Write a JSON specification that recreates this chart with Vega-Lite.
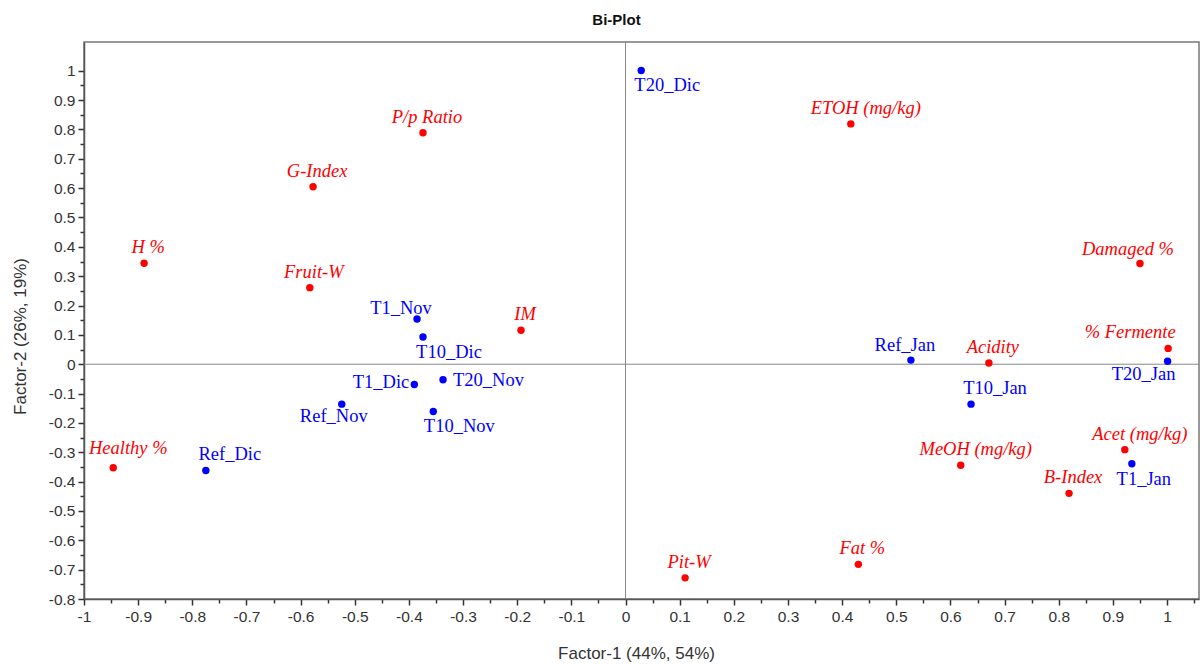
{
  "$schema": "https://vega.github.io/schema/vega-lite/v6.json",
  "width": 1115,
  "height": 557,
  "autosize": {"type": "none"},
  "padding": {"left": 84, "top": 42, "right": 1, "bottom": 65},
  "background": "white",
  "config": {"view": {"stroke": "#777", "strokeWidth": 1.5}, "axis": {"labelOverlap": false, "labelFlush": false}},
  "title": {"text": "Bi-Plot", "anchor": "middle", "dx": -25, "offset": 14, "font": "Liberation Sans", "fontSize": 15, "fontWeight": "bold", "color": "#111"},
  "resolve": {"axis": {"x": "independent", "y": "independent"}},
  "data": {"values": [
    {"name": "P/p Ratio", "x": -0.374, "y": 0.789, "type": "variable"},
    {"name": "G-Index", "x": -0.577, "y": 0.605, "type": "variable"},
    {"name": "H %", "x": -0.889, "y": 0.344, "type": "variable"},
    {"name": "Fruit-W", "x": -0.583, "y": 0.261, "type": "variable"},
    {"name": "IM", "x": -0.193, "y": 0.116, "type": "variable"},
    {"name": "Healthy %", "x": -0.946, "y": -0.353, "type": "variable"},
    {"name": "ETOH (mg/kg)", "x": 0.416, "y": 0.819, "type": "variable"},
    {"name": "Damaged %", "x": 0.95, "y": 0.343, "type": "variable"},
    {"name": "% Fermente", "x": 1.002, "y": 0.054, "type": "variable"},
    {"name": "Acidity", "x": 0.671, "y": 0.004, "type": "variable"},
    {"name": "Acet (mg/kg)", "x": 0.922, "y": -0.291, "type": "variable"},
    {"name": "MeOH (mg/kg)", "x": 0.619, "y": -0.344, "type": "variable"},
    {"name": "B-Index", "x": 0.819, "y": -0.44, "type": "variable"},
    {"name": "Fat %", "x": 0.43, "y": -0.682, "type": "variable"},
    {"name": "Pit-W", "x": 0.11, "y": -0.728, "type": "variable"},
    {"name": "T20_Dic", "x": 0.029, "y": 1.001, "type": "observation"},
    {"name": "T1_Nov", "x": -0.385, "y": 0.154, "type": "observation"},
    {"name": "T10_Dic", "x": -0.374, "y": 0.093, "type": "observation"},
    {"name": "T1_Dic", "x": -0.39, "y": -0.069, "type": "observation"},
    {"name": "T20_Nov", "x": -0.337, "y": -0.053, "type": "observation"},
    {"name": "Ref_Nov", "x": -0.524, "y": -0.136, "type": "observation"},
    {"name": "T10_Nov", "x": -0.355, "y": -0.161, "type": "observation"},
    {"name": "Ref_Dic", "x": -0.775, "y": -0.362, "type": "observation"},
    {"name": "Ref_Jan", "x": 0.527, "y": 0.014, "type": "observation"},
    {"name": "T10_Jan", "x": 0.638, "y": -0.136, "type": "observation"},
    {"name": "T1_Jan", "x": 0.935, "y": -0.339, "type": "observation"},
    {"name": "T20_Jan", "x": 1.001, "y": 0.01, "type": "observation"}
  ]},
  "layer": [
    {
      "data": {"values": [{}]},
      "mark": {"type": "rule", "color": "#888", "strokeWidth": 1},
      "encoding": {"x": {"datum": 0, "type": "quantitative",
        "scale": {"domain": [-1, 1.059], "nice": false, "zero": false},
        "axis": {"orient": "bottom", "title": null, "labels": false, "domain": false, "grid": false,
          "values": [-0.95,-0.85,-0.75,-0.65,-0.55,-0.45,-0.35,-0.25,-0.15,-0.05,0.05,0.15,0.25,0.35,0.45,0.55,0.65,0.75,0.85,0.95,1.05],
          "tickSize": 4, "tickColor": "#333", "tickWidth": 1.5}}}
    },
    {
      "data": {"values": [{}]},
      "mark": {"type": "rule", "color": "#888", "strokeWidth": 1},
      "encoding": {"y": {"datum": 0, "type": "quantitative",
        "scale": {"domain": [-0.8, 1.098], "nice": false, "zero": false},
        "axis": {"orient": "left", "title": null, "labels": false, "domain": false, "grid": false,
          "values": [-0.75,-0.65,-0.55,-0.45,-0.35,-0.25,-0.15,-0.05,0.05,0.15,0.25,0.35,0.45,0.55,0.65,0.75,0.85,0.95],
          "tickSize": 4, "tickColor": "#333", "tickWidth": 1.5}}}
    },
    {
      "encoding": {
        "x": {"field": "x", "type": "quantitative",
          "scale": {"domain": [-1, 1.059], "nice": false, "zero": false},
          "axis": {
            "orient": "bottom",
            "title": "Factor-1 (44%, 54%)",
            "values": [-1,-0.9,-0.8,-0.7,-0.6,-0.5,-0.4,-0.3,-0.2,-0.1,0,0.1,0.2,0.3,0.4,0.5,0.6,0.7,0.8,0.9,1],
            "labelExpr": "toString(round(datum.value*10)/10)",
            "tickSize": 6,
            "grid": false, "labelOverlap": false, "labelFlush": false,
            "labelFont": "Liberation Sans", "labelFontSize": 15.5, "labelColor": "#333", "labelPadding": 4,
            "tickColor": "#333", "tickWidth": 1.5, "domainColor": "#555", "domainWidth": 1.5,
            "titleFont": "Liberation Sans", "titleFontSize": 17, "titleFontWeight": "normal", "titleColor": "#333",
            "titleX": 552, "titleY": 54, "titleBaseline": "middle", "titleAlign": "center", "titleAnchor": null
          }},
        "y": {"field": "y", "type": "quantitative",
          "scale": {"domain": [-0.8, 1.098], "nice": false, "zero": false},
          "axis": {
            "orient": "left",
            "title": "Factor-2 (26%, 19%)",
            "values": [-0.8,-0.7,-0.6,-0.5,-0.4,-0.3,-0.2,-0.1,0,0.1,0.2,0.3,0.4,0.5,0.6,0.7,0.8,0.9,1],
            "labelExpr": "toString(round(datum.value*10)/10)",
            "tickSize": 6,
            "grid": false, "labelOverlap": false, "labelFlush": false,
            "labelFont": "Liberation Sans", "labelFontSize": 15.5, "labelColor": "#333", "labelPadding": 3,
            "tickColor": "#333", "tickWidth": 1.5, "domainColor": "#555", "domainWidth": 1.5,
            "titleFont": "Liberation Sans", "titleFontSize": 17, "titleFontWeight": "normal", "titleColor": "#333",
            "titleX": -64, "titleY": 294, "titleAngle": -90, "titleBaseline": "middle", "titleAlign": "center", "titleAnchor": null
          }},
        "color": {"field": "type", "type": "nominal", "scale": {"domain": ["variable", "observation"], "range": ["#ff0000", "#0000ff"]}, "legend": null},
        "text": {"field": "name"}
      },
      "layer": [
        {"mark": {"type": "point", "filled": true, "opacity": 1, "size": 55, "shape": "circle"}},
        {"transform": [{"filter": {"field": "name", "oneOf": ["P/p Ratio", "G-Index", "H %", "Fruit-W", "IM", "Acidity", "B-Index", "Fat %", "Pit-W"]}}],
         "mark": {"type": "text", "font": "Liberation Serif", "fontStyle": "italic", "fontSize": 18.5, "dx": 4, "dy": -16}},
        {"transform": [{"filter": {"field": "name", "oneOf": ["ETOH (mg/kg)", "Acet (mg/kg)", "MeOH (mg/kg)"]}}],
         "mark": {"type": "text", "font": "Liberation Serif", "fontStyle": "italic", "fontSize": 18.5, "dx": 15, "dy": -16}},
        {"transform": [{"filter": {"field": "name", "equal": "Healthy %"}}],
         "mark": {"type": "text", "font": "Liberation Serif", "fontStyle": "italic", "fontSize": 18.5, "dx": 15, "dy": -20}},
        {"transform": [{"filter": {"field": "name", "equal": "Damaged %"}}],
         "mark": {"type": "text", "font": "Liberation Serif", "fontStyle": "italic", "fontSize": 18.5, "dx": -12, "dy": -15}},
        {"transform": [{"filter": {"field": "name", "equal": "% Fermente"}}],
         "mark": {"type": "text", "font": "Liberation Serif", "fontStyle": "italic", "fontSize": 18.5, "dx": -38, "dy": -16}},
        {"transform": [{"filter": {"field": "name", "oneOf": ["T20_Dic", "T10_Dic", "T10_Nov"]}}],
         "mark": {"type": "text", "font": "Liberation Serif", "fontSize": 18.5, "dx": 26, "dy": 15}},
        {"transform": [{"filter": {"field": "name", "equal": "T1_Jan"}}],
         "mark": {"type": "text", "font": "Liberation Serif", "fontSize": 18.5, "dx": 12, "dy": 15}},
        {"transform": [{"filter": {"field": "name", "oneOf": ["Ref_Dic", "T10_Jan"]}}],
         "mark": {"type": "text", "font": "Liberation Serif", "fontSize": 18.5, "dx": 24, "dy": -16}},
        {"transform": [{"filter": {"field": "name", "equal": "T1_Nov"}}],
         "mark": {"type": "text", "font": "Liberation Serif", "fontSize": 18.5, "dx": -16, "dy": -11}},
        {"transform": [{"filter": {"field": "name", "equal": "Ref_Jan"}}],
         "mark": {"type": "text", "font": "Liberation Serif", "fontSize": 18.5, "dx": -6, "dy": -15}},
        {"transform": [{"filter": {"field": "name", "equal": "Ref_Nov"}}],
         "mark": {"type": "text", "font": "Liberation Serif", "fontSize": 18.5, "dx": -8, "dy": 12}},
        {"transform": [{"filter": {"field": "name", "equal": "T20_Jan"}}],
         "mark": {"type": "text", "font": "Liberation Serif", "fontSize": 18.5, "dx": -24, "dy": 13}},
        {"transform": [{"filter": {"field": "name", "equal": "T1_Dic"}}],
         "mark": {"type": "text", "font": "Liberation Serif", "fontSize": 18.5, "align": "right", "dx": -5, "dy": -2}},
        {"transform": [{"filter": {"field": "name", "equal": "T20_Nov"}}],
         "mark": {"type": "text", "font": "Liberation Serif", "fontSize": 18.5, "align": "left", "dx": 10, "dy": 0}}
      ]
    }
  ]
}
